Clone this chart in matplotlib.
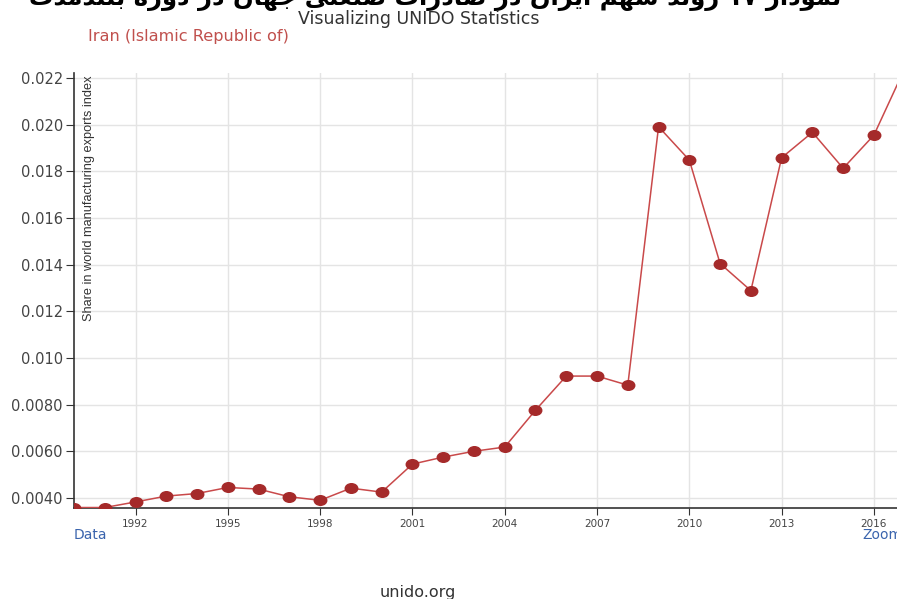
import matplotlib
matplotlib.use("Agg")
import matplotlib.pyplot as plt
from matplotlib.path import Path
from matplotlib.transforms import Affine2D

# Iran share in world manufacturing exports index
years = list(range(1990, 2018))
share = [0.0036, 0.0036, 0.00384, 0.00409, 0.0042, 0.00446, 0.00439, 0.00406,
         0.00391, 0.00443, 0.00426, 0.00546, 0.00576, 0.00601, 0.00619, 0.00777,
         0.00923, 0.00923, 0.00884, 0.01991, 0.01848, 0.01405, 0.01289, 0.01858,
         0.01967, 0.01813, 0.01955, 0.0224]
xticks = list(range(1992, 2017, 3))
yticks = [0.004, 0.006, 0.008, 0.010, 0.012, 0.014, 0.016, 0.018, 0.020, 0.022]
ytick_labels = ['0.0040', '0.0060', '0.0080', '0.010', '0.012', '0.014',
                '0.016', '0.018', '0.020', '0.022']

title_fa = 'نمودار ۱۷ روند سهم ایران در صادرات صنعتی جهان در دوره بلندمدت'

# minimal Persian shaping (matplotlib has no bidi / joining support)
forms = {  # isolated, final, initial, medial
    'ا': ('\uFE8D', '\uFE8E'), 'د': ('\uFEA9', '\uFEAA'),
    'ر': ('\uFEAD', '\uFEAE'), 'و': ('\uFEED', '\uFEEE'),
    'ب': ('\uFE8F', '\uFE90', '\uFE91', '\uFE92'),
    'ت': ('\uFE95', '\uFE96', '\uFE97', '\uFE98'),
    'ج': ('\uFE9D', '\uFE9E', '\uFE9F', '\uFEA0'),
    'س': ('\uFEB1', '\uFEB2', '\uFEB3', '\uFEB4'),
    'ص': ('\uFEB9', '\uFEBA', '\uFEBB', '\uFEBC'),
    'ع': ('\uFEC9', '\uFECA', '\uFECB', '\uFECC'),
    'ل': ('\uFEDD', '\uFEDE', '\uFEDF', '\uFEE0'),
    'م': ('\uFEE1', '\uFEE2', '\uFEE3', '\uFEE4'),
    'ن': ('\uFEE5', '\uFEE6', '\uFEE7', '\uFEE8'),
    'ه': ('\uFEE9', '\uFEEA', '\uFEEB', '\uFEEC'),
    'ی': ('\uFBFC', '\uFBFD', '\uFBFE', '\uFBFF'),
}


def shape_word(w):
    if not any(c in forms for c in w):
        return w
    out = []
    for i, c in enumerate(w):
        f = forms.get(c)
        if f is None:
            out.append(c)
            continue
        prev = w[i - 1] if i > 0 else None
        nxt = w[i + 1] if i + 1 < len(w) else None
        join_prev = prev in forms and len(forms[prev]) == 4
        join_next = len(f) == 4 and nxt in forms
        if join_prev and join_next:
            out.append(f[3])
        elif join_prev:
            out.append(f[1])
        elif join_next:
            out.append(f[2])
        else:
            out.append(f[0])
    return ''.join(reversed(out))


title_vis = ' '.join(shape_word(w) for w in reversed(title_fa.split(' ')))

# the source screenshot is stretched sideways, so the dots are wide ellipses
wide_dot = Path.unit_circle().transformed(Affine2D().scale(1.3, 1.0))

fig = plt.figure(figsize=(8.97, 5.99), dpi=100)
ax = fig.add_axes([74 / 897, 91 / 599, 1 - 74 / 897, 435 / 599])

ax.plot(years, share, color='#c9494a', lw=1.1, zorder=3)
ax.plot(years, share, linestyle='none', marker=wide_dot, color='#a52a2a', ms=9,
        mec='#a52a2a', zorder=4)

ax.set_xlim(1990, 2016.75)
ax.set_ylim(0.00358, 0.02221)
ax.set_xticks(xticks)
ax.set_yticks(yticks)
ax.set_yticklabels(ytick_labels)
ax.grid(True, color='#e4e4e4', lw=1)
ax.set_axisbelow(True)
for s in ['top', 'right']:
    ax.spines[s].set_visible(False)
for s in ['left', 'bottom']:
    ax.spines[s].set_color('#333333')
    ax.spines[s].set_linewidth(1.2)
ax.tick_params(axis='y', labelsize=10.5, colors='#333333', labelcolor='#444444', length=6, pad=2)
ax.tick_params(axis='x', labelsize=7.5, colors='#333333', labelcolor='#444444', length=5, pad=3)
for lbl in ax.get_xticklabels() + ax.get_yticklabels():
    lbl.set_family('DejaVu Sans')

ax.text(0.018, 0.995, 'Share in world manufacturing exports index', transform=ax.transAxes,
        rotation=90, ha='center', va='top', fontsize=9.2, color='#333333',
        family=['Liberation Sans Narrow', 'Liberation Sans'])

fig.text(435 / 897, 1 + 1 / 599, title_vis, ha='center', va='center', fontsize=17.5,
         fontweight='bold', color='black', family=['DejaVu Sans'])
fig.text(419 / 897, 1 - 19 / 599, 'Visualizing UNIDO Statistics', ha='center', va='center',
         fontsize=12.5, color='#333333', family='DejaVu Sans')
fig.text(88 / 897, 1 - 37 / 599, 'Iran (Islamic Republic of)', ha='left', va='center',
         fontsize=11.6, color='#c0504d', family='DejaVu Sans')
fig.text(74 / 897, 1 - 535 / 599, 'Data', ha='left', va='center',
         fontsize=10, color='#3a64ad', family='DejaVu Sans')
fig.text(862 / 897, 1 - 535 / 599, 'Zoom', ha='left', va='center',
         fontsize=10, color='#3a64ad', family='DejaVu Sans')
fig.text(418 / 897, 1 - 593 / 599, 'unido.org', ha='center', va='center',
         fontsize=11.5, color='#333333', family='DejaVu Sans')

fig.savefig('out.png', dpi=100)
